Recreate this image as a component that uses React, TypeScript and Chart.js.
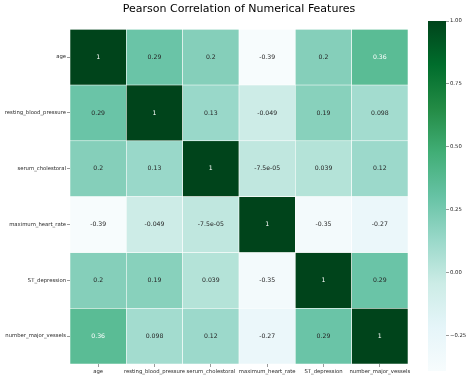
import React, { useEffect, useRef } from "react";
import { Chart, registerables } from "chart.js";

Chart.register(...registerables);

const features = [
  "age",
  "resting_blood_pressure",
  "serum_cholestoral",
  "maximum_heart_rate",
  "ST_depression",
  "number_major_vessels",
];

const rowAge = [1, 0.29, 0.2, -0.39, 0.2, 0.36];
const rowRestingBP = [0.29, 1, 0.13, -0.049, 0.19, 0.098];
const rowSerumChol = [0.2, 0.13, 1, -7.5e-5, 0.039, 0.12];
const rowMaxHR = [-0.39, -0.049, -7.5e-5, 1, -0.35, -0.27];
const rowSTDep = [0.2, 0.19, 0.039, -0.35, 1, 0.29];
const rowVessels = [0.36, 0.098, 0.12, -0.27, 0.29, 1];

const matrix = [rowAge, rowRestingBP, rowSerumChol, rowMaxHR, rowSTDep, rowVessels];

const colorbarTicks = [-0.25, 0, 0.25, 0.5, 0.75, 1];

const TITLE = "Pearson Correlation of Numerical Features";

// matplotlib BuGn
const BUGN: number[][] = [
  [247, 252, 253],
  [229, 245, 249],
  [204, 236, 230],
  [153, 216, 201],
  [102, 194, 164],
  [65, 174, 118],
  [35, 139, 69],
  [0, 109, 44],
  [0, 68, 27],
];

const allValues = matrix.flat();
const vmin = Math.min(...allValues);
const vmax = Math.max(...allValues);

function cmap(v: number): number[] {
  let t = (v - vmin) / (vmax - vmin);
  t = Math.max(0, Math.min(1, t));
  const p = t * (BUGN.length - 1);
  const i = Math.min(Math.floor(p), BUGN.length - 2);
  const f = p - i;
  const a = BUGN[i];
  const b = BUGN[i + 1];
  return [0, 1, 2].map((k) => Math.round(a[k] + (b[k] - a[k]) * f));
}

function rgb(c: number[]) {
  return `rgb(${c[0]},${c[1]},${c[2]})`;
}

function luminance(c: number[]) {
  const lin = c.map((x) => {
    const s = x / 255;
    return s <= 0.03928 ? s / 12.92 : Math.pow((s + 0.055) / 1.055, 2.4);
  });
  return 0.2126 * lin[0] + 0.7152 * lin[1] + 0.0722 * lin[2];
}

function fmt2g(v: number): string {
  if (v === 0) return "0";
  const e = Math.floor(Math.log10(Math.abs(v)));
  if (e < -4 || e >= 2) {
    const s = v.toExponential(1);
    const [m, ex] = s.split("e");
    const sign = ex[0] === "-" ? "-" : "+";
    const digits = ex.replace(/^[+-]/, "").padStart(2, "0");
    return `${m}e${sign}${digits}`;
  }
  let s = v.toPrecision(2);
  if (s.includes(".")) s = s.replace(/0+$/, "").replace(/\.$/, "");
  return s;
}

const FONT = "DejaVu Sans";
const TEXT_DARK = "#262626";
const TICK_SIZE = 5.3;

const annotatePlugin = {
  id: "annotateCells",
  afterDatasetsDraw(chart: any) {
    const ctx = chart.ctx;
    ctx.save();
    ctx.font = `6.2px "${FONT}"`;
    ctx.textAlign = "center";
    ctx.textBaseline = "middle";
    chart.data.datasets.forEach((ds: any, r: number) => {
      const meta = chart.getDatasetMeta(r);
      meta.data.forEach((el: any, c: number) => {
        const v = matrix[r][c];
        const col = cmap(v);
        ctx.fillStyle = luminance(col) > 0.408 ? TEXT_DARK : "#ffffff";
        const p = el.getCenterPoint();
        ctx.fillText(fmt2g(v), p.x, p.y);
      });
    });
    ctx.restore();
  },
};

export default function App() {
  const mainRef = useRef<HTMLCanvasElement>(null);
  const cbRef = useRef<HTMLCanvasElement>(null);

  useEffect(() => {
    const datasets = matrix.map((row, r) => ({
      label: features[r],
      data: row.map(() => [r, r + 1]),
      backgroundColor: row.map((v) => rgb(cmap(v))),
      borderColor: "#ffffff",
      borderWidth: 0.6,
      borderSkipped: false,
      barPercentage: 1,
      categoryPercentage: 1,
      grouped: false,
    }));

    const main = new Chart(mainRef.current!, {
      type: "bar",
      data: { labels: features, datasets: datasets as any },
      plugins: [annotatePlugin],
      options: {
        animation: false,
        responsive: false,
        events: [],
        layout: { padding: { left: 0, right: 62, top: 0, bottom: 0 } },
        plugins: {
          legend: { display: false },
          tooltip: { enabled: false },
          title: {
            display: true,
            text: TITLE,
            fullSize: false,
            color: "#000000",
            font: { family: FONT, size: 11, weight: "normal" },
            padding: { top: 3, bottom: 13 },
          },
        },
        scales: {
          x: {
            type: "category",
            offset: true,
            border: { display: false },
            grid: {
              offset: false,
              drawOnChartArea: false,
              drawTicks: true,
              tickLength: 3,
              color: "#555555",
              lineWidth: 0.6,
            },
            ticks: {
              color: TEXT_DARK,
              font: { family: FONT, size: TICK_SIZE },
              padding: 1,
              maxRotation: 0,
              minRotation: 0,
              autoSkip: false,
            },
            afterFit(scale: any) {
              scale.height = 15;
            },
          },
          y: {
            type: "linear",
            min: 0,
            max: matrix.length,
            reverse: true,
            border: { display: false },
            grid: {
              drawOnChartArea: false,
              drawTicks: true,
              tickLength: 3,
              color: "#555555",
              lineWidth: 0.6,
            },
            ticks: {
              color: TEXT_DARK,
              font: { family: FONT, size: TICK_SIZE },
              padding: 1,
              callback: (v: any) => features[Math.floor(Number(v))] ?? "",
            },
            afterBuildTicks(scale: any) {
              scale.ticks = features.map((_, i) => ({ value: i + 0.5 }));
            },
            afterFit(scale: any) {
              scale.width = 70;
            },
          },
        },
      } as any,
    });

    const cb = new Chart(cbRef.current!, {
      type: "bar",
      data: {
        labels: ["cb"],
        datasets: [
          {
            data: [[vmin, vmax]],
            barPercentage: 1,
            categoryPercentage: 1,
            borderWidth: 0,
            backgroundColor: (ctx: any) => {
              const chart = ctx.chart;
              const area = chart.chartArea;
              if (!area) return rgb(BUGN[4]);
              const ys = chart.scales.y;
              const g = chart.ctx.createLinearGradient(
                0,
                ys.getPixelForValue(vmin),
                0,
                ys.getPixelForValue(vmax)
              );
              BUGN.forEach((c, i) => g.addColorStop(i / (BUGN.length - 1), rgb(c)));
              return g;
            },
          } as any,
        ],
      },
      options: {
        animation: false,
        responsive: false,
        events: [],
        layout: { padding: { left: 8, right: 0, top: 21, bottom: 8 } },
        plugins: {
          legend: { display: false },
          tooltip: { enabled: false },
          title: { display: false },
        },
        scales: {
          x: { display: false },
          y: {
            type: "linear",
            position: "right",
            min: vmin,
            max: vmax,
            border: { display: false },
            grid: {
              drawOnChartArea: false,
              drawTicks: true,
              tickLength: 3,
              color: "#555555",
              lineWidth: 0.6,
            },
            ticks: {
              color: TEXT_DARK,
              font: { family: FONT, size: TICK_SIZE },
              padding: 1,
              callback: (v: any) => {
                const n = Number(v);
                return (n < 0 ? "\u2212" : "") + Math.abs(n).toFixed(2);
              },
            },
            afterBuildTicks(scale: any) {
              scale.ticks = colorbarTicks.map((v) => ({ value: v }));
            },
            afterFit(scale: any) {
              scale.width = 24;
            },
          },
        },
      } as any,
    });

    return () => {
      main.destroy();
      cb.destroy();
    };
  }, []);

  return (
    <div style={{ position: "fixed", left: 0, top: 0, width: 470, height: 379, background: "#ffffff" }}>
      <canvas
        ref={mainRef}
        width={470}
        height={379}
        style={{ position: "absolute", left: 0, top: 0, width: 470, height: 379 }}
      />
      <canvas
        ref={cbRef}
        width={50}
        height={379}
        style={{ position: "absolute", left: 420, top: 0, width: 50, height: 379 }}
      />
    </div>
  );
}
